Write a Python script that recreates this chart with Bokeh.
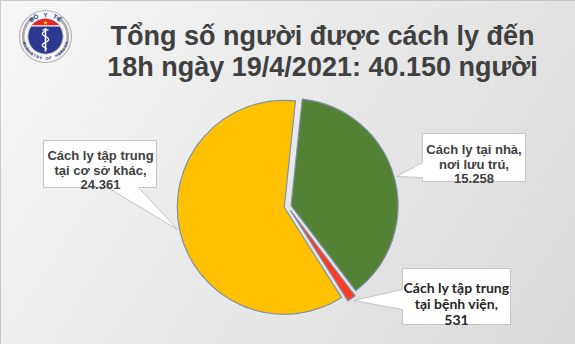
import numpy as np
from bokeh.plotting import figure
from bokeh.models import Range1d
from bokeh.core.properties import value
from bokeh.embed import file_html
from bokeh.resources import INLINE

W, H = 575, 344

# ---- data -------------------------------------------------------------
title_lines = ["Tổng số người được cách ly đến", "18h ngày 19/4/2021: 40.150 người"]
categories = ["Cách ly tại nhà, nơi lưu trú",
              "Cách ly tập trung tại bệnh viện",
              "Cách ly tập trung tại cơ sở khác"]
counts = [15258, 531, 24361]
label_lines = [["Cách ly tại nhà,", "nơi lưu trú,"],
               ["Cách ly tập trung", "tại bệnh viện,"],
               ["Cách ly tập trung", "tại cơ sở khác,"]]
slice_colors = ["#548235", "#FF3B1F", "#FFC000"]


def sy(y):
    """Convert a top-down pixel row into the plot's y coordinate."""
    return H - y


def fmt(v):
    return f"{v:,}".replace(",", ".")


p = figure(width=W, height=H, x_range=Range1d(0, W), y_range=Range1d(0, H),
           x_axis_type=None, y_axis_type=None, toolbar_location=None,
           output_backend="svg", min_border=0)
p.grid.visible = False
p.background_fill_color = "#e8e8e8"
p.border_fill_color = "#e8e8e8"
p.outline_line_color = "#bdbdbd"

# ---- soft grey background gradient -------------------------------------
rows = 43
tx = np.linspace(0, 1, W)[None, :]
ty = np.linspace(0, 1, rows)[:, None]
g = np.clip(239 + 8 * ty - 21 * tx, 0, 255).astype(np.uint8)
img = np.empty((rows, W), dtype=np.uint32)
view = img.view(np.uint8).reshape((rows, W, 4))
view[..., 0] = g
view[..., 1] = g
view[..., 2] = g
view[..., 3] = 255
p.image_rgba(image=[img], x=0, y=0, dw=W, dh=H)

# ---- title ---------------------------------------------------------------
title_font = value("Liberation Sans")
p.text(x=[322, 322], y=[sy(35), sy(66)], text=title_lines,
       text_font=title_font, text_font_style="bold", text_font_size="27px",
       text_color="#404040", text_align="center", text_baseline="alphabetic")

# ---- emblem ----------------------------------------------------------------
Lx, Ly, Lr = 45, sy(36), 26
p.circle(x=[Lx], y=[Ly], radius=Lr, fill_color="#f7f7f7",
         line_color="#b5b5b5", line_width=1.2)
for a0, a1 in [(np.deg2rad(120), np.deg2rad(235)), (np.deg2rad(-55), np.deg2rad(60))]:
    p.arc(x=[Lx], y=[Ly], radius=Lr * 0.86, start_angle=a0, end_angle=a1,
          line_color="#a9a9a9", line_width=2.5)
ri = Lr * 0.68
p.circle(x=[Lx], y=[Ly], radius=ri, fill_color="#2b3a8f", line_color="#cfcfcf",
         line_width=1)
k = 0.6
band_y = Ly + ri * k
th = np.linspace(np.arcsin(k), np.pi - np.arcsin(k), 40)
p.patch(x=list(Lx + ri * np.cos(th)), y=list(Ly + ri * np.sin(th)),
        fill_color="#e3262b", line_color=None)
p.segment(x0=[Lx - ri * 0.8], y0=[band_y], x1=[Lx + ri * 0.8], y1=[band_y],
          line_color="white", line_width=1.2)
p.scatter(x=[Lx], y=[band_y + ri * 0.18], marker="star", size=5,
          fill_color="#ffde00", line_color=None)
# rod and serpent
p.segment(x0=[Lx], y0=[band_y - 2], x1=[Lx], y1=[Ly - ri * 0.85],
          line_color="white", line_width=1.6)
p.segment(x0=[Lx - 3], y0=[band_y - 4], x1=[Lx + 3], y1=[band_y - 4],
          line_color="white", line_width=1.2)
sv = np.linspace(band_y - 5, Ly - ri * 0.7, 40)
p.line(x=list(Lx + 3.2 * np.sin((sv - sv[0]) * 0.55)), y=list(sv),
       line_color="white", line_width=1.2)


def arc_text(word, radius, centre_deg, step_deg, size, top=True):
    n = len(word)
    if top:
        angs = np.deg2rad(centre_deg + step_deg * ((n - 1) / 2 - np.arange(n)))
        rot = angs - np.pi / 2
    else:
        angs = np.deg2rad(centre_deg - step_deg * ((n - 1) / 2 - np.arange(n)))
        rot = angs + np.pi / 2
    p.text(x=list(Lx + radius * np.cos(angs)), y=list(Ly + radius * np.sin(angs)),
           text=list(word), angle=list(rot), text_font=value("Liberation Sans"),
           text_font_style="bold", text_font_size=size, text_color="#25367f",
           text_align="center", text_baseline="middle")


arc_text("BỘ Y TẾ", Lr * 0.84, 90, 13, "6px", top=True)
arc_text("MINISTRY OF HEALTH", Lr * 0.84, 270, 8.5, "4px", top=False)

# ---- pie -----------------------------------------------------------------
cx, cy, R = 287.2, sy(206), 107
start0 = np.deg2rad(84)
frac = np.array(counts, dtype=float) / sum(counts)
cum = np.cumsum(frac)
starts = start0 - 2 * np.pi * (cum - frac)
ends = start0 - 2 * np.pi * cum
mids = (starts + ends) / 2
explode = np.array([3.5, 5.0, 3.5])
wx = cx + explode * np.cos(mids)
wy = cy + explode * np.sin(mids)

p.wedge(x=wx, y=wy, radius=R, start_angle=starts, end_angle=ends,
        direction="clock", fill_color=None, line_color="#e6ebf2",
        line_width=2.5, line_join="round")
p.wedge(x=wx, y=wy, radius=R, start_angle=starts, end_angle=ends,
        direction="clock", fill_color=slice_colors, line_color="#8391a5",
        line_width=1.2, line_join="round")

# ---- callouts ------------------------------------------------------------
box_fill, box_line = "white", "#c4c4c4"
callouts = [
    # green slice label: box to the right, pointer from its left edge
    dict(shape=[(422, 133), (525, 133), (525, 181), (422, 181), (422, 177),
                (396, 176), (422, 162)],
         cx=473.5, base=[149, 163.5, 178], font="Liberation Sans", size="13px",
         color="#404040"),
    # red slice label: box below right
    dict(shape=[(402, 268), (510, 268), (510, 324), (402, 324), (402, 309),
                (353, 300), (402, 289)],
         cx=456, base=[287, 303, 319], font="Lato", size="14px",
         color="#262626"),
    # yellow slice label: box upper left, pointer from its bottom edge
    dict(shape=[(43, 140), (156, 140), (156, 187), (138, 187), (177, 229),
                (107, 187), (43, 187)],
         cx=100, base=[155, 169.5, 184], font="Liberation Sans", size="13px",
         color="#404040"),
]
for i, c in enumerate(callouts):
    xs = [pt[0] for pt in c["shape"]]
    ys = [sy(pt[1]) for pt in c["shape"]]
    p.patch(x=xs, y=ys, fill_color=box_fill, line_color=box_line, line_width=1)
    lines = label_lines[i] + [fmt(counts[i])]
    p.text(x=[c["cx"]] * 3, y=[sy(b) for b in c["base"]], text=lines,
           text_font=value(c["font"]), text_font_style="bold",
           text_font_size=c["size"], text_color=c["color"],
           text_align="center", text_baseline="alphabetic")

open("out.html", "w").write(file_html(p, INLINE))
